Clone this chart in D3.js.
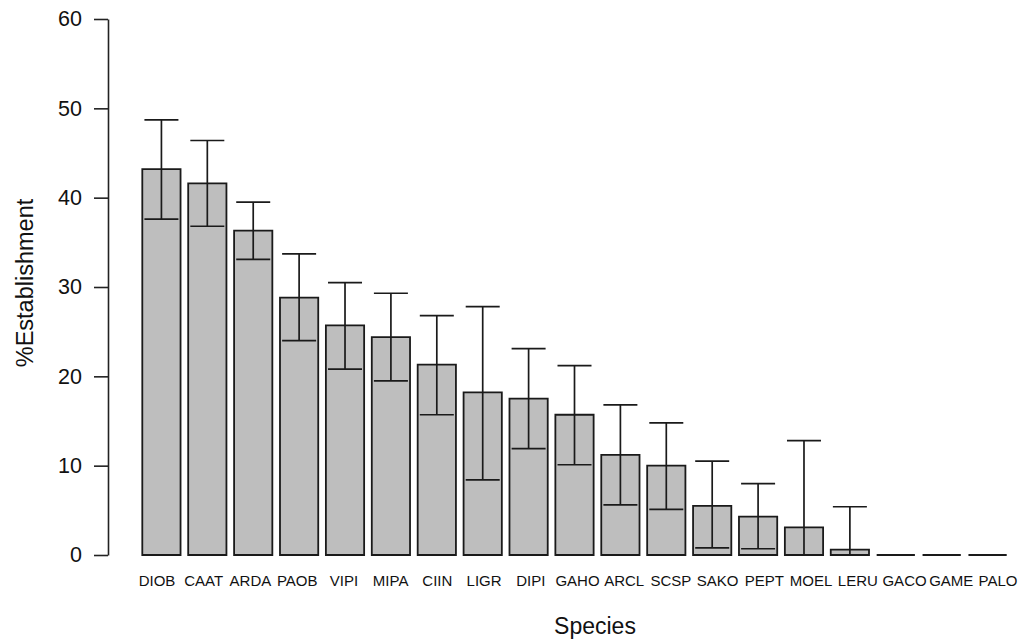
<!DOCTYPE html>
<html>
<head>
<meta charset="utf-8">
<script src="https://cdn.jsdelivr.net/npm/d3@7"></script>
<style>
  html, body { margin: 0; padding: 0; background: #fff; }
  svg { display: block; font-family: "Liberation Sans", Arial, Helvetica, sans-serif; }
</style>
</head>
<body>
<svg id="chart" width="1026" height="642"></svg>
<script>
// Species codes, mean establishment (%) and error-bar limits
const species = ["DIOB","CAAT","ARDA","PAOB","VIPI","MIPA","CIIN","LIGR","DIPI","GAHO",
                 "ARCL","SCSP","SAKO","PEPT","MOEL","LERU","GACO","GAME","PALO"];
const establishment = [43.2, 41.6, 36.3, 28.8, 25.7, 24.4, 21.3, 18.2, 17.5, 15.7,
                       11.2, 10.0, 5.5, 4.3, 3.1, 0.6, 0, 0, 0];
const upperLimit = [48.7, 46.4, 39.5, 33.7, 30.5, 29.3, 26.8, 27.8, 23.1, 21.2,
                    16.8, 14.8, 10.5, 8.0, 12.8, 5.4, null, null, null];
const lowerLimit = [37.6, 36.8, 33.1, 24.0, 20.8, 19.5, 15.7, 8.4, 11.9, 10.1,
                    5.6, 5.1, 0.8, 0.7, 0, 0, null, null, null];
const yTicks = [0, 10, 20, 30, 40, 50, 60];

const svg = d3.select("#chart");

const y = d3.scaleLinear().domain([0, 60]).range([555, 19]);
const x = d3.scaleBand().domain(species).range([142.3, 1006.7])
  .paddingInner(0.2 / 1.2).paddingOuter(0);
const labelX = d3.scalePoint().domain(species).range([157, 998]);

const rows = species.map((s, i) => ({
  s, v: establishment[i], hi: upperLimit[i], lo: lowerLimit[i]
}));

// Y axis (base-graphics style: outward ticks, no outer tick)
const yAxis = d3.axisLeft(y).tickValues(yTicks).tickSize(14).tickPadding(12).tickSizeOuter(0);
const gy = svg.append("g").attr("transform", "translate(108,0)").call(yAxis);
gy.select(".domain").attr("stroke", "#222").attr("stroke-width", 1.6);
gy.selectAll(".tick line").attr("stroke", "#222").attr("stroke-width", 1.6);
gy.selectAll(".tick text").attr("font-size", 21.5).attr("fill", "#111")
  .attr("font-family", "Liberation Sans, Arial, sans-serif");

// Bars as closed outlines so zero-height bars still show as a line
const bw = x.bandwidth();
svg.append("g").selectAll("path.bar").data(rows).join("path")
  .attr("class", "bar")
  .attr("d", d => {
    const x0 = x(d.s), y0 = y(0), y1 = y(d.v);
    return `M${x0},${y0}V${y1}H${x0 + bw}V${y0}Z`;
  })
  .attr("fill", "#bebebe")
  .attr("stroke", "#1a1a1a")
  .attr("stroke-width", 1.8);

// Error bars with caps
const cap = 17;
const eb = svg.append("g").attr("stroke", "#1a1a1a").attr("stroke-width", 1.7).attr("fill", "none");
rows.filter(d => d.hi !== null).forEach(d => {
  const cx = x(d.s) + bw / 2;
  eb.append("line").attr("x1", cx).attr("x2", cx).attr("y1", y(d.lo)).attr("y2", y(d.hi));
  eb.append("line").attr("x1", cx - cap).attr("x2", cx + cap).attr("y1", y(d.hi)).attr("y2", y(d.hi));
  if (d.lo > 0) {
    eb.append("line").attr("x1", cx - cap).attr("x2", cx + cap).attr("y1", y(d.lo)).attr("y2", y(d.lo));
  }
});

// Species labels under the bars
svg.append("g").selectAll("text.lab").data(species).join("text")
  .attr("class", "lab")
  .attr("x", d => labelX(d))
  .attr("y", 586)
  .attr("text-anchor", "middle")
  .attr("font-size", 15)
  .attr("fill", "#111")
  .text(d => d);

// Axis titles
svg.append("text")
  .attr("x", 595).attr("y", 634)
  .attr("text-anchor", "middle")
  .attr("font-size", 23)
  .attr("fill", "#111")
  .text("Species");

svg.append("text")
  .attr("transform", "translate(33,283) rotate(-90)")
  .attr("text-anchor", "middle")
  .attr("font-size", 23.5)
  .attr("fill", "#111")
  .text("%Establishment");
</script>
</body>
</html>
